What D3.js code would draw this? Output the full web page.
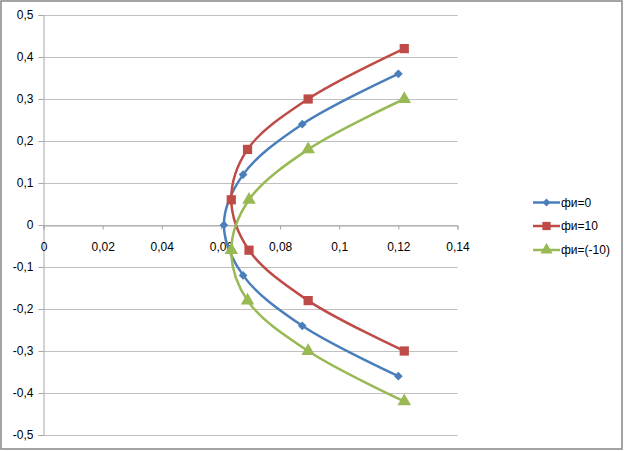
<!DOCTYPE html>
<html><head><meta charset="utf-8">
<script src="https://cdn.jsdelivr.net/npm/d3@7"></script>
<style>body{margin:0;background:#fff}svg{display:block}text{font-family:"Liberation Sans",Arial,sans-serif;font-size:12px;fill:#000}</style>
</head><body><svg id="c" width="624" height="451"></svg>
<script>
const seriesNames = ["фи=0", "фи=10", "фи=(-10)"];
const colors = ["#4A7EBB", "#BE4B48", "#98B954"];
const xBlue = [0.120, 0.0875, 0.0675, 0.061, 0.0675, 0.0875, 0.120];
const yBlue = [0.36, 0.24, 0.12, 0, -0.12, -0.24, -0.36];
const xRed = [0.122, 0.0895, 0.069, 0.0635, 0.0695, 0.0895, 0.122];
const yRed = [0.42, 0.30, 0.18, 0.06, -0.06, -0.18, -0.30];
const xGreen = [0.122, 0.0895, 0.0695, 0.0635, 0.069, 0.0895, 0.122];
const yGreen = [0.30, 0.18, 0.06, -0.06, -0.18, -0.30, -0.42];
const xTicks = [0, 0.02, 0.04, 0.06, 0.08, 0.1, 0.12, 0.14];
const yTicks = [0.5, 0.4, 0.3, 0.2, 0.1, 0, -0.1, -0.2, -0.3, -0.4, -0.5];

const svg = d3.select("#c");
svg.append("rect").attr("x",1).attr("y",1).attr("width",621).attr("height",448)
  .attr("fill","#fff").attr("stroke","#868686").attr("stroke-width",1.5);

const x = d3.scaleLinear().domain([0,0.14]).range([43.5,457.5]);
const y = d3.scaleLinear().domain([-0.5,0.5]).range([435,15]);
const fmt = v => (Math.round(v*100)/100).toString().replace(".", ",");

// gridlines
svg.append("g").selectAll("line").data(yTicks).join("line")
  .attr("x1",x(0)).attr("x2",x(0.14))
  .attr("y1",d=>Math.round(y(d))+0.5).attr("y2",d=>Math.round(y(d))+0.5)
  .attr("stroke","#BFBFBF").attr("stroke-width",1);

// y axis
const yAxis = svg.append("g").attr("transform",`translate(${x(0)},0)`)
  .call(d3.axisLeft(y).tickValues(yTicks).tickFormat(fmt).tickSize(5).tickPadding(5));
yAxis.select(".domain").attr("stroke","#A6A6A6");
yAxis.selectAll(".tick line").attr("stroke","#A6A6A6");
yAxis.selectAll("text").attr("font-size",12).attr("font-family","Liberation Sans, Arial, sans-serif").attr("fill","#000");

// x axis at y=0
const xAxis = svg.append("g").attr("transform",`translate(0,${Math.round(y(0))+0.5})`)
  .call(d3.axisBottom(x).tickValues(xTicks).tickFormat(fmt).tickSize(4).tickPadding(13));
xAxis.select(".domain").attr("stroke","#A6A6A6");
xAxis.selectAll(".tick line").attr("stroke","#A6A6A6");
xAxis.selectAll("text").attr("font-size",12).attr("font-family","Liberation Sans, Arial, sans-serif").attr("fill","#000");

const data = [
  xBlue.map((v,i)=>[v,yBlue[i]]),
  xRed.map((v,i)=>[v,yRed[i]]),
  xGreen.map((v,i)=>[v,yGreen[i]])
];
const line = d3.line().x(d=>x(d[0])).y(d=>y(d[1])).curve(d3.curveCatmullRom.alpha(0.5));

const sym = [d3.symbolSquare, d3.symbolSquare, d3.symbolTriangle];
const rot = [45, 0, 0];
const symSize = [38, 85, 80];

data.forEach((pts,i)=>{
  svg.append("path").attr("d",line(pts)).attr("fill","none")
    .attr("stroke",colors[i]).attr("stroke-width",2.5);
});
data.forEach((pts,i)=>{
  svg.append("g").selectAll("path").data(pts).join("path")
    .attr("transform",d=>`translate(${x(d[0])},${y(d[1])}) rotate(${rot[i]})`)
    .attr("d",d3.symbol().type(sym[i]).size(symSize[i]))
    .attr("fill",colors[i]);
});

// legend
const leg = svg.append("g");
const legY = [202.5, 226, 250];
seriesNames.forEach((n,i)=>{
  leg.append("line").attr("x1",533).attr("x2",560).attr("y1",legY[i]).attr("y2",legY[i])
    .attr("stroke",colors[i]).attr("stroke-width",2.5);
  leg.append("path").attr("transform",`translate(546.5,${legY[i]}) rotate(${rot[i]})`)
    .attr("d",d3.symbol().type(sym[i]).size(symSize[i]*0.8)).attr("fill",colors[i]);
  leg.append("text").attr("x",561).attr("y",legY[i]).attr("dy","0.35em").text(n);
});
</script></body></html>
